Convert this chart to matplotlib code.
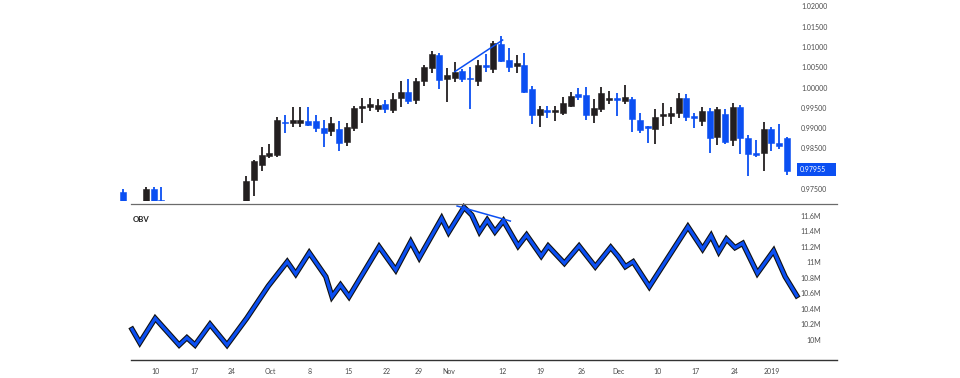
import matplotlib
matplotlib.use("Agg")
import matplotlib.pyplot as plt
from matplotlib.lines import Line2D
from matplotlib.patches import Rectangle
from matplotlib import patheffects as pe
from matplotlib import transforms

plt.rcParams['font.family'] = ['Lato', 'DejaVu Sans']

# ---------------- data ----------------
candle_idx = [0, 3, 4, 5, 16, 17, 18, 19, 20, 21, 22, 23, 24, 25, 26, 27, 28, 29,
              30, 31, 32, 33, 34, 35, 36, 37, 38, 39, 40, 41, 42, 43, 44, 45, 46, 47,
              48, 49, 50, 51, 52, 53, 54, 55, 56, 57, 58, 59, 60, 61, 62, 63, 64, 65,
              66, 67, 68, 69, 70, 71, 72, 73, 74, 75, 76, 77, 78, 79, 80, 81, 82, 83,
              84, 85, 86]
opens = [0.97446, 0.97167, 0.97512, 0.97242, 0.97167, 0.97734, 0.98103, 0.98325, 0.98350,
         0.99170, 0.99131, 0.99140, 0.99195, 0.99187, 0.99022, 0.98941, 0.98983, 0.98665,
         0.99022, 0.99500, 0.99525, 0.99475, 0.99599, 0.99458, 0.99746, 0.99909, 0.99704,
         1.00172, 1.00500, 1.00813, 1.00214, 1.00239, 1.00426, 1.00254, 1.00180, 1.00567,
         1.00461, 1.01076, 1.00690, 1.00542, 1.00567, 0.99975, 0.99335, 0.99458, 0.99416,
         0.99392, 0.99557, 0.99845, 0.99828, 0.99335, 0.99475, 0.99704, 0.99746, 0.99687,
         0.99729, 0.99212, 0.99071, 0.98990, 0.99318, 0.99318, 0.99377, 0.99761, 0.99318,
         0.99195, 0.99441, 0.98800, 0.99352, 0.98719, 0.99539, 0.98761, 0.98392, 0.98392,
         0.98983, 0.98653, 0.98761]
highs = [0.97512, 0.97569, 0.97554, 0.97569, 0.97833, 0.98227, 0.98554, 0.98613, 0.99293,
         0.99335, 0.99525, 0.99525, 0.99525, 0.99335, 0.99212, 0.99293, 0.99195, 0.99138,
         0.99557, 0.99761, 0.99746, 0.99722, 0.99704, 0.99869, 1.00172, 1.00222, 1.00239,
         1.00567, 1.00911, 1.00862, 1.00485, 1.00648, 1.00461, 1.00525, 1.00690, 1.00837,
         1.01158, 1.01281, 1.00993, 1.00813, 1.00855, 1.00049, 0.99557, 0.99557, 0.99557,
         0.99786, 0.99909, 0.99993, 1.00017, 0.99729, 1.00017, 0.99933, 0.99869, 1.00074,
         0.99771, 0.99377, 0.99071, 0.99475, 0.99638, 0.99525, 0.99869, 0.99845, 0.99392,
         0.99525, 0.99500, 0.99525, 0.99475, 0.99623, 0.99581, 0.98842, 0.98719, 0.99155,
         0.99047, 0.99113, 0.98800]
lows = [0.97120, 0.97120, 0.97150, 0.97220, 0.97120, 0.97340, 0.97963, 0.98268, 0.98308,
        0.98884, 0.99047, 0.99047, 0.99064, 0.98924, 0.98554, 0.98818, 0.98448, 0.98579,
        0.98941, 0.99145, 0.99433, 0.99416, 0.99377, 0.99377, 0.99539, 0.99599, 0.99599,
        1.00057, 1.00377, 0.99968, 0.99663, 1.00140, 1.00155, 0.99483, 1.00057, 1.00401,
        1.00377, 1.00640, 1.00401, 1.00362, 0.99869, 0.99106, 0.99047, 0.99254, 0.99195,
        0.99335, 0.99525, 0.99704, 0.99212, 0.99131, 0.99416, 0.99599, 0.99310, 0.99599,
        0.98909, 0.98884, 0.98653, 0.98621, 0.99071, 0.99106, 0.99254, 0.99195, 0.99007,
        0.99064, 0.98392, 0.98596, 0.98621, 0.98579, 0.98367, 0.97840, 0.98293, 0.97956,
        0.98456, 0.98498, 0.97857]
closes = [0.97167, 0.97512, 0.97200, 0.97220, 0.97709, 0.98202, 0.98350, 0.98406, 0.99212,
          0.99131, 0.99212, 0.99220, 0.99089, 0.99007, 0.98899, 0.99131, 0.98653, 0.99039,
          0.99515, 0.99557, 0.99606, 0.99581, 0.99475, 0.99729, 0.99909, 0.99680, 1.00172,
          1.00510, 1.00837, 1.00197, 1.00320, 1.00401, 1.00222, 1.00214, 1.00567, 1.00525,
          1.01116, 1.00672, 1.00525, 1.00608, 0.99909, 0.99335, 0.99475, 0.99416, 0.99458,
          0.99638, 0.99810, 0.99786, 0.99335, 0.99515, 0.99869, 0.99761, 0.99704, 0.99771,
          0.99229, 0.98966, 0.99007, 0.99293, 0.99360, 0.99377, 0.99761, 0.99293, 0.99254,
          0.99433, 0.98776, 0.99475, 0.98663, 0.99525, 0.98776, 0.98367, 0.98350, 0.98983,
          0.98653, 0.98579, 0.97955]

obv_pos = [1.2, 2.2, 4.2, 7.3, 8.3, 9.35, 11.3, 13.5, 16.05, 18.85, 21.3, 22.4, 24.15,
           26.3, 27.1, 28.2, 29.3, 33.2, 35.35, 37.3, 38.4, 41.3, 42.2, 44.2, 45.2, 46.2,
           47.2, 48.2, 49.3, 51.2, 52.3, 54.2, 55.1, 57.2, 59.1, 61.2, 63.2, 64.2, 65.1,
           66.1, 68.2, 73.2, 75.1, 76.2, 77.2, 78.2, 79.3, 80.3, 82.2, 84.3, 85.8, 87.3]
obv_vals = [10.138, 9.965, 10.28, 9.935, 10.03, 9.935, 10.203, 9.935, 10.28, 10.697,
            11.01, 10.852, 11.126, 10.817, 10.559, 10.71, 10.559, 11.204, 10.903, 11.268,
            11.062, 11.57, 11.39, 11.712, 11.613, 11.397, 11.548, 11.397, 11.539, 11.213,
            11.355, 11.084, 11.213, 10.99, 11.213, 10.946, 11.196, 11.075, 10.946, 11.01,
            10.688, 11.462, 11.174, 11.346, 11.139, 11.303, 11.191, 11.248, 10.861,
            11.152, 10.817, 10.572]

price_trend_pos = [43.0, 49.2]
price_trend_vals = [1.00402, 1.01182]
obv_trend_pos = [43.3, 50.2]
obv_trend_vals = [11.729, 11.535]

price_ticks = [0.975, 0.985, 0.990, 0.995, 1.000, 1.005, 1.010, 1.015, 1.020]
obv_ticks = [10.0, 10.2, 10.4, 10.6, 10.8, 11.0, 11.2, 11.4, 11.6]
obv_tick_labels = ["10M", "10.2M", "10.4M", "10.6M", "10.8M", "11M", "11.2M", "11.4M", "11.6M"]
last_price_label = "0.97955"

x_tick_pos = [4.3, 9.25, 14.15, 19.15, 24.15, 29.3, 34.2, 38.3, 42.2, 49.15, 54.15,
              59.4, 64.2, 69.2, 74.2, 79.25, 84.1]
x_tick_labels = ["10", "17", "24", "Oct", "8", "15", "22", "29", "Nov", "12", "19",
                 "26", "Dec", "10", "17", "24", "2019"]

# ---------------- layout helpers ----------------
W, H = 960, 378
BLUE = "#0b4ff2"
DARK = "#231f20"
GREY = "#4a4a4a"


def fx(px):
    return px / W


def fy(py):
    return 1 - py / H


X0, DX = 122.8, 7.72
L_PX, R_PX = 118, 800
xlim = ((L_PX - X0) / DX, (R_PX - X0) / DX)

fig = plt.figure(figsize=(9.6, 3.78), dpi=100)
ax1 = fig.add_axes([fx(L_PX), fy(201), fx(R_PX) - fx(L_PX), fy(0) - fy(201)])
ax2 = fig.add_axes([fx(L_PX), fy(360), fx(R_PX) - fx(L_PX), fy(204) - fy(360)])

for ax in (ax1, ax2):
    ax.set_xlim(*xlim)
    for s in ax.spines.values():
        s.set_visible(False)
    ax.set_xticks([])
    ax.set_yticks([])
    ax.patch.set_alpha(0)

ax1.set_ylim(0.97217, 1.021675)
ax2.set_ylim(9.742, 11.755)

# ---------------- candles ----------------
bw = 0.78
for i, o, h, l, c in zip(candle_idx, opens, highs, lows, closes):
    col = DARK if c >= o else BLUE
    ax1.plot([i, i], [l, h], color=col, lw=1.3, solid_capstyle='butt', zorder=2)
    lo, hi = min(o, c), max(o, c)
    hgt = max(hi - lo, 0.00012)
    ax1.add_patch(Rectangle((i - bw / 2, lo), bw, hgt, facecolor=col,
                            edgecolor=col, lw=0.4, zorder=3))

ax1.plot(price_trend_pos, price_trend_vals, color=BLUE, lw=1.1, zorder=4)

# ---------------- OBV ----------------
ax2.plot(obv_pos, obv_vals, color=BLUE, lw=2.3, solid_joinstyle='miter',
         path_effects=[pe.Stroke(linewidth=3.9, foreground="#111111"), pe.Normal()],
         zorder=3, clip_on=False)
ax2.plot(obv_trend_pos, obv_trend_vals, color=BLUE, lw=1.1, zorder=4, clip_on=False)
ax2.text(fx(133), fy(219), "OBV", transform=fig.transFigure, fontsize=5.6,
         fontweight='bold', color="#222222", ha='left', va='center')

# ---------------- axis labels ----------------
t1 = transforms.blended_transform_factory(fig.transFigure, ax1.transData)
for v in price_ticks:
    ax1.text(fx(801), v, f"{v:.5f}", transform=t1, fontsize=5, color=GREY,
             ha='left', va='center')
t2 = transforms.blended_transform_factory(fig.transFigure, ax2.transData)
for v, s in zip(obv_ticks, obv_tick_labels):
    ax2.text(fx(821), v, s, transform=t2, fontsize=5, color=GREY,
             ha='right', va='center')

tx = transforms.blended_transform_factory(ax2.transData, fig.transFigure)
for p, s in zip(x_tick_pos, x_tick_labels):
    ax2.text(p, fy(371), s, transform=tx, fontsize=5, color=GREY,
             ha='center', va='center')

# price tag
fig.add_artist(Rectangle((fx(797), fy(175.5)), fx(836) - fx(797), fy(163) - fy(175.5),
                         transform=fig.transFigure, facecolor=BLUE, edgecolor='none'))
fig.text(fx(800), fy(169.3), last_price_label, fontsize=5, color='white',
         ha='left', va='center')

# separators
fig.add_artist(Line2D([fx(131), fx(837)], [fy(204), fy(204)], color="#6b6b6b", lw=0.9,
                      transform=fig.transFigure))
fig.add_artist(Line2D([fx(131), fx(837)], [fy(360), fy(360)], color="#333333", lw=1.0,
                      transform=fig.transFigure))

fig.savefig("out.png", dpi=100, facecolor='white')
